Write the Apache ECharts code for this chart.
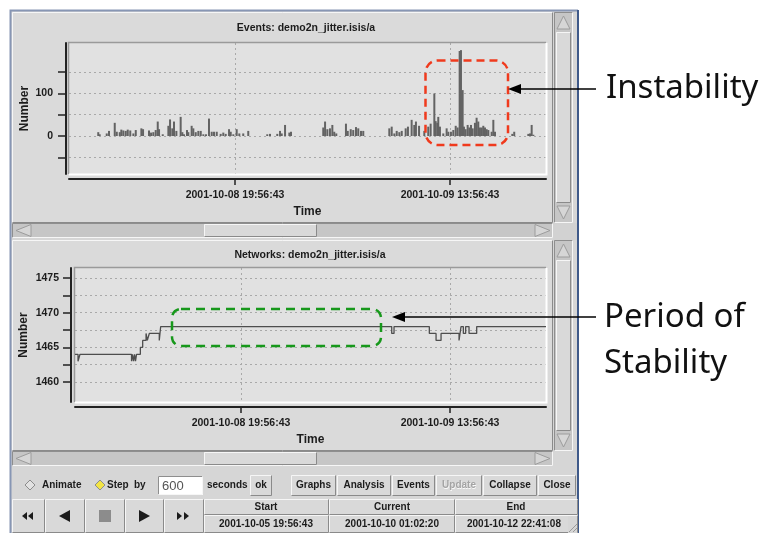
<!DOCTYPE html>
<html>
<head>
<meta charset="utf-8">
<script src="https://cdn.jsdelivr.net/npm/echarts@6/dist/echarts.min.js"></script>
<style>
html, body { margin: 0; padding: 0; background: #fff; }
#main { width: 763px; height: 533px; }
</style>
</head>
<body>
<div id="main"></div>
<script>
// time is in hours relative to 2001-10-08 19:56:43
var timeTickHours = [0, 18];
var timeTickLabels = ['2001-10-08 19:56:43', '2001-10-09 13:56:43'];

// Events panel
var eventHours = [-11.45,-11.33,-10.74,-10.55,-10.07,-9.90,-9.65,-9.52,-9.35,-9.15,
  -8.98,-8.77,-8.51,-8.31,-7.84,-7.70,-7.20,-7.03,-6.84,-6.64,
  -6.47,-6.36,-6.05,-5.58,-5.44,-5.25,-5.11,-4.91,-4.55,-4.41,
  -4.27,-4.02,-3.91,
  -3.63,-3.49,-3.29,-3.07,-2.87,-2.65,-2.43,-2.18,-1.95,-1.76,
  -1.53,-1.20,-0.98,-0.78,-0.50,-0.36,-0.14,0.14,0.36,0.69,
  1.11,2.70,2.93,3.54,3.77,3.91,4.19,4.55,4.69,
  7.39,7.54,7.73,7.95,8.15,8.31,8.48,9.29,9.44,9.69,
  9.90,10.13,10.32,10.55,10.74,12.92,13.12,13.34,13.54,13.76,
  13.96,14.29,14.48,14.79,15.01,15.15,15.41,15.85,16.18,16.38,
  16.69,16.80,16.94,17.02,17.16,17.44,17.72,17.86,18.08,18.28,
  18.48,18.64,18.81,18.92,19.06,19.17,19.31,19.48,19.62,19.76,
  19.90,20.09,20.23,20.37,20.51,20.66,20.79,20.93,21.07,21.21,
  21.49,21.63,21.77,23.22,23.38,24.56,24.70,24.84,24.98];
var eventCounts = [9,4,6,12,31,10,9,15,13,12,
  15,13,6,14,18,16,13,8,9,14,
  34,16,4,24,39,18,34,12,45,9,
  4,14,9,
  24,18,9,12,12,4,4,41,10,10,
  10,5,8,5,16,10,4,16,6,6,
  12,4,5,5,12,6,26,8,10,
  20,34,16,18,26,10,6,29,12,16,
  14,21,18,12,12,18,22,6,12,9,
  12,18,22,38,26,34,24,12,22,29,
  100,35,31,45,22,6,18,10,10,14,
  24,20,200,202,108,22,16,26,20,26,
  18,31,43,34,20,20,24,20,16,14,
  10,38,10,5,10,5,6,26,3];
var eventTicks = [-50, 0, 50, 100, 150];
var eventLabels = [0, 100];

// Networks panel
var netHours = [-14.30,-14.04,-13.87,-9.43,-9.35,-9.26,-9.17,-9.09,-9.00,
  -8.67,-8.47,-8.18,-8.07,-7.90,-7.04,-6.92,12.98,13.18,
  16.22,16.80,17.23,18.78,18.95,19.15,19.35,19.64,20.30,26.27];
var netCounts = [1464,1463,1464,1463,1464,1463,1464,1463,1464,
  1465,1466,1467,1466,1467,1466,1468,1467,1468,
  1467,1466,1467,1466,1468,1467,1468,1467,1468,1468];
var netTicks = [1460, 1462.5, 1465, 1467.5, 1470, 1472.5, 1475];
var netLabels = [1460, 1465, 1470, 1475];

var GUI_FONT = '"Liberation Sans", Arial, sans-serif';
var ink = '#1c1c1c';

// ---- window chrome drawn with graphic elements ----
var g = [];
function rect(x, y, w, h, fill, z) {
  g.push({ type: 'rect', z: z || -10, shape: { x: x, y: y, width: w, height: h }, style: { fill: fill } });
}
function line(pts, color, w, z, dash) {
  g.push({ type: 'polyline', z: z || -10, shape: { points: pts },
    style: { stroke: color, lineWidth: w || 1, fill: null, lineDash: dash || null } });
}
function poly(pts, fill, stroke, z) {
  g.push({ type: 'polygon', z: z || -10, shape: { points: pts },
    style: { fill: fill, stroke: stroke || null, lineWidth: 1 } });
}
function bevel(x, y, w, h, fill, sunken) {
  var lt = sunken ? '#8e8e8e' : '#f6f6f6';
  var dk = sunken ? '#f6f6f6' : '#8a8a8a';
  rect(x, y, w, h, fill);
  line([[x + 0.5, y + h - 0.5], [x + 0.5, y + 0.5], [x + w - 0.5, y + 0.5]], lt, 1);
  line([[x + 0.5, y + h - 0.5], [x + w - 0.5, y + h - 0.5], [x + w - 0.5, y + 0.5]], dk, 1);
}
function txt(s, x, y, o) {
  o = o || {};
  g.push({ type: 'text', z: o.z || -10, style: {
    text: s, x: x, y: y, fill: o.color || ink,
    font: (o.weight || 'bold') + ' ' + (o.size || 10) + 'px ' + (o.family || GUI_FONT),
    textAlign: o.align || 'left', textVerticalAlign: 'middle' } });
}
function button(label, x, y, w, h, disabled) {
  bevel(x, y, w, h, '#d9d9d9', false);
  if (disabled) txt(label, x + w / 2 + 0.5, y + h / 2 + 0.5, { align: 'center', color: '#fbfbfb' });
  txt(label, x + w / 2, y + h / 2, { align: 'center', color: disabled ? '#a4a4a4' : ink });
}
function vScroll(y0, y1) {
  bevel(554, y0, 19, y1 - y0, '#c6c6c6', true);
  poly([[563.5, y0 + 4], [557, y0 + 17], [570, y0 + 17]], '#d6d6d6', '#9c9c9c');
  bevel(556, y0 + 20, 15, y1 - y0 - 40, '#d9d9d9', false);
  poly([[557, y1 - 17], [570, y1 - 17], [563.5, y1 - 4]], '#d6d6d6', '#9c9c9c');
}
function hScroll(y0) {
  bevel(12, y0, 541, 15, '#c6c6c6', true);
  poly([[16, y0 + 7.5], [31, y0 + 1.5], [31, y0 + 13.5]], '#d6d6d6', '#9c9c9c');
  bevel(204, y0 + 1, 113, 13, '#d9d9d9', false);
  poly([[535, y0 + 1.5], [535, y0 + 13.5], [550, y0 + 7.5]], '#d6d6d6', '#9c9c9c');
}

// window body
rect(10, 10, 568, 523, '#d6d6d6');
line([[10.5, 533], [10.5, 10.5], [578, 10.5]], '#8796b4', 2);
line([[578, 10], [578, 533]], '#3f5a8a', 2);
// panels
bevel(12, 12, 541, 211, '#dadada', false);
bevel(12, 240, 541, 211, '#dadada', false);
vScroll(12, 223);
vScroll(240, 451);
hScroll(223);
hScroll(451);
rect(553, 223, 24, 17, '#d2d2d2');

txt('Events: demo2n_jitter.isis/a', 306, 28, { size: 10.5, align: 'center' });
txt('Networks: demo2n_jitter.isis/a', 310, 255, { size: 10.5, align: 'center' });

// plot boxes (sunken frames)
line([[68.5, 174], [68.5, 42.5], [546, 42.5]], '#9a9a9a', 1.5, 1);
line([[69, 174.5], [546.5, 174.5], [546.5, 43]], '#ffffff', 2, 1);
line([[74.5, 402], [74.5, 267.5], [546, 267.5]], '#9a9a9a', 1.5, 1);
line([[75, 402.5], [546.5, 402.5], [546.5, 268]], '#ffffff', 2, 1);

// controls row
poly([[30, 480], [35, 485], [30, 490], [25, 485]], '#e2e2e2', '#8c8c8c');
txt('Animate', 42, 485);
poly([[100, 480], [105, 485], [100, 490], [95, 485]], '#f2e445', '#8c8c8c');
txt('Step', 107, 485);
txt('by', 134, 485);
bevel(158, 476, 45, 19, '#ffffff', true);
txt('600', 162, 486, { weight: 'normal', size: 13, color: '#555' });
txt('seconds', 207, 485);
button('ok', 250, 475, 22, 21);
button('Graphs', 291, 475, 45, 21);
button('Analysis', 337, 475, 54, 21);
button('Events', 392, 475, 43, 21);
button('Update', 436, 475, 46, 21, true);
button('Collapse', 483, 475, 54, 21);
button('Close', 538, 475, 38, 21);

// playback buttons
bevel(12, 499, 33, 34, '#d9d9d9', false);
bevel(45, 499, 40, 34, '#d9d9d9', false);
bevel(85, 499, 40, 34, '#d9d9d9', false);
bevel(125, 499, 39, 34, '#d9d9d9', false);
bevel(164, 499, 40, 34, '#d9d9d9', false);
poly([[22, 516], [27, 512], [27, 520]], ink);
poly([[28, 516], [33, 512], [33, 520]], ink);
poly([[59, 516], [70, 510], [70, 522]], ink);
rect(99, 510, 12, 12, '#8c8c8c');
poly([[139, 510], [139, 522], [150, 516]], ink);
poly([[177, 512], [177, 520], [182, 516]], ink);
poly([[184, 512], [184, 520], [189, 516]], ink);

// start / current / end table
bevel(204, 499, 125, 16, '#d9d9d9', false);
bevel(329, 499, 126, 16, '#d9d9d9', false);
bevel(455, 499, 123, 16, '#d9d9d9', false);
bevel(204, 515, 125, 18, '#d9d9d9', false);
bevel(329, 515, 126, 18, '#d9d9d9', false);
bevel(455, 515, 123, 18, '#d9d9d9', false);
txt('Start', 266, 507, { align: 'center' });
txt('Current', 392, 507, { align: 'center' });
txt('End', 516, 507, { align: 'center' });
txt('2001-10-05 19:56:43', 266, 524, { align: 'center' });
txt('2001-10-10 01:02:20', 392, 524, { align: 'center' });
txt('2001-10-12 22:41:08', 467, 524);
rect(568, 516, 9, 17, '#d6d6d6');
line([[569, 532], [577, 524]], '#9a9a9a', 1);
line([[573, 532], [577, 528]], '#9a9a9a', 1);

// annotations
g.push({ type: 'rect', z: 50, shape: { x: 425.5, y: 60.5, width: 82.5, height: 84.5, r: 12 },
  style: { fill: null, stroke: '#f03a1d', lineWidth: 2.5, lineDash: [8, 5] } });
g.push({ type: 'rect', z: 50, shape: { x: 172, y: 309, width: 209, height: 37, r: 9 },
  style: { fill: null, stroke: '#17981b', lineWidth: 2.5, lineDash: [9, 6] } });
line([[596, 89], [518, 89]], '#000', 1.5, 50);
poly([[508, 89], [521, 84], [521, 94]], '#000', null, 50);
line([[596, 317], [402, 317]], '#000', 1.5, 50);
poly([[392, 317], [405, 312], [405, 322]], '#000', null, 50);
txt('Instability', 606, 89, { z: 50, weight: 'normal', size: 33, family: '"Noto Sans", sans-serif', color: '#111' });
txt('Period of', 604, 318, { z: 50, weight: 'normal', size: 33, family: '"Noto Sans", sans-serif', color: '#111' });
txt('Stability', 604, 364, { z: 50, weight: 'normal', size: 33, family: '"Noto Sans", sans-serif', color: '#111' });

// ---- axes ----
var axisInk = '#222';
var gridLine = { show: true, lineStyle: { color: '#a9a9a9', width: 1, type: [2, 3] } };
function timeAxis(gridIndex, min, max) {
  return {
    gridIndex: gridIndex, type: 'value', min: min, max: max, offset: 5,
    axisLine: { show: true, onZero: false, lineStyle: { color: axisInk, width: 2 } },
    axisTick: { show: true, length: 6, customValues: timeTickHours, lineStyle: { color: axisInk, width: 1.5 } },
    axisLabel: { customValues: timeTickHours, margin: 11, color: ink, fontSize: 10.5, fontWeight: 'bold', fontFamily: GUI_FONT,
      formatter: function (v) { return timeTickLabels[timeTickHours.indexOf(v)]; } },
    splitLine: gridLine,
    name: 'Time', nameLocation: 'middle', nameGap: 27, nameMoveOverlap: false,
    nameTextStyle: { color: ink, fontSize: 12, fontWeight: 'bold', fontFamily: GUI_FONT }
  };
}
function numberAxis(gridIndex, min, max, ticks, labels, offset, margin, nameGap) {
  return {
    gridIndex: gridIndex, type: 'value', min: min, max: max, offset: offset,
    axisLine: { show: true, onZero: false, lineStyle: { color: axisInk, width: 2 } },
    axisTick: { show: true, length: 8, customValues: ticks, lineStyle: { color: axisInk, width: 1.5 } },
    axisLabel: { customValues: labels, margin: margin, color: ink, fontSize: 10.5, fontWeight: 'bold', fontFamily: GUI_FONT,
      formatter: function (v) { return String(v); } },
    splitLine: gridLine,
    name: 'Number', nameLocation: 'middle', nameRotate: 90, nameGap: nameGap, nameMoveOverlap: false,
    nameTextStyle: { color: ink, fontSize: 12, fontWeight: 'bold', fontFamily: GUI_FONT }
  };
}

var myChart = echarts.init(document.getElementById('main'));
var option = {
  backgroundColor: '#ffffff',
  animation: false,
  grid: [
    { left: 69, top: 43, width: 477, height: 131, show: true, backgroundColor: '#e1e1e1', borderWidth: 0, outerBoundsMode: 'none' },
    { left: 75, top: 268, width: 471, height: 134, show: true, backgroundColor: '#e1e1e1', borderWidth: 0, outerBoundsMode: 'none' }
  ],
  xAxis: [timeAxis(0, -13.9, 26.04), timeAxis(1, -14.3, 26.27)],
  yAxis: [
    numberAxis(0, -89.4, 218.8, eventTicks, eventLabels, 3, 13, 35),
    numberAxis(1, 1457.12, 1476.44, netTicks, netLabels, 4, 12, 41)
  ],
  series: [
    {
      name: 'Events', type: 'bar', xAxisIndex: 0, yAxisIndex: 0, barWidth: 2,
      itemStyle: { color: '#636363' },
      data: eventHours.map(function (h, i) { return [h, eventCounts[i]]; })
    },
    {
      name: 'Networks', type: 'line', xAxisIndex: 1, yAxisIndex: 1, step: 'end', symbol: 'none',
      lineStyle: { color: '#4e4e4e', width: 1.3 },
      data: netHours.map(function (h, i) { return [h, netCounts[i]]; })
    }
  ],
  graphic: g
};
myChart.setOption(option);
</script>
</body>
</html>
